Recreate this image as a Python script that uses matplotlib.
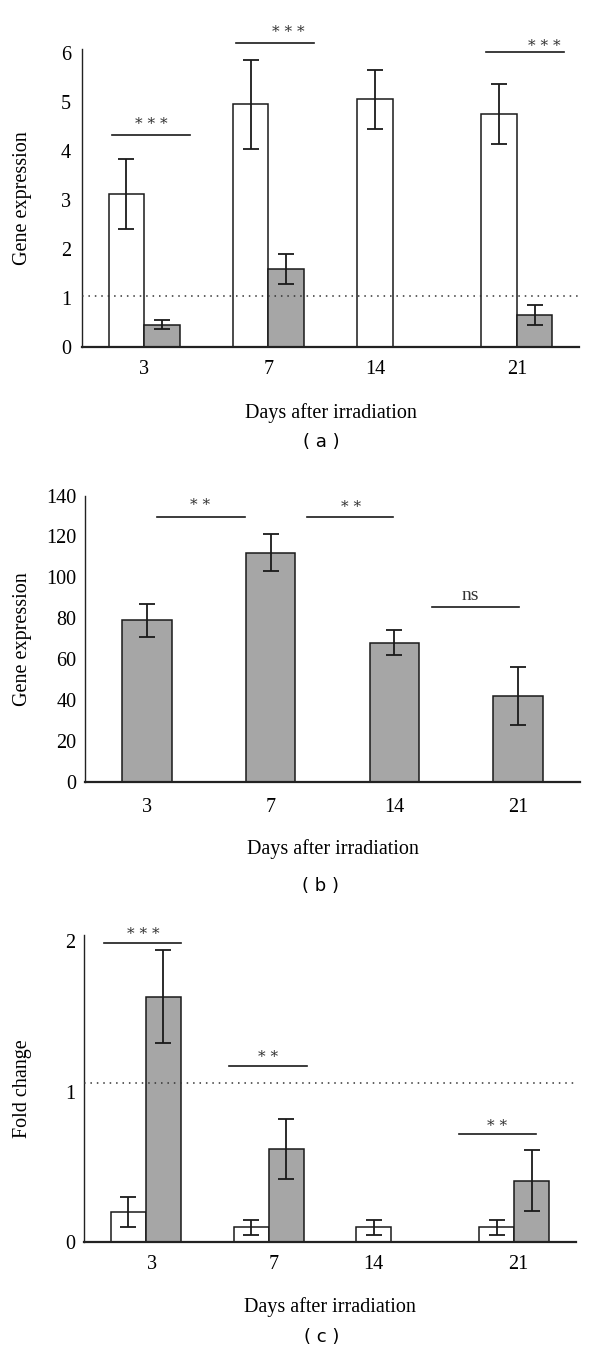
import numpy as np
import matplotlib
matplotlib.use("Agg")
import matplotlib.pyplot as plt

plt.rcParams['font.family'] = ['Liberation Serif', 'DejaVu Serif']

days = ["3", "7", "14", "21"]

# panel (a)
a_white = [3.12, 4.95, 5.05, 4.75]
a_white_err = [0.71, 0.91, 0.61, 0.61]
a_gray = [0.46, 1.59, np.nan, 0.65]
a_gray_err = [0.10, 0.30, np.nan, 0.20]

# panel (b)
b_gray = [79, 112, 68, 42]
b_gray_err = [8, 9, 6, 14]

# panel (c)
c_white = [0.20, 0.10, 0.10, 0.10]
c_white_err = [0.10, 0.05, 0.05, 0.05]
c_gray = [1.63, 0.62, np.nan, 0.41]
c_gray_err = [0.31, 0.20, np.nan, 0.20]

GRAY = '#a6a6a6'
EDGE = '#1a1a1a'

fig = plt.figure(figsize=(6.0, 13.61), dpi=100)


def style_axes(ax):
    for s in ['top', 'right']:
        ax.spines[s].set_visible(False)
    ax.spines['left'].set_linewidth(1.0)
    ax.spines['left'].set_color('#222222')
    ax.spines['bottom'].set_linewidth(1.6)
    ax.spines['bottom'].set_color('#222222')
    ax.tick_params(length=0, labelsize=14.5)


def bars(ax, x, vals, errs, color, w):
    ax.bar(x, vals, w, color=color, edgecolor=EDGE, linewidth=1.1, zorder=2)
    ax.errorbar(x, vals, yerr=errs, fmt='none', ecolor='#1a1a1a',
                elinewidth=1.3, capsize=5.5, capthick=1.3, zorder=3)


def sig(ax, x0, x1, y, label, tx, ty, size=11, family='DejaVu Serif'):
    ax.plot([x0, x1], [y, y], color='#1a1a1a', lw=1.2, clip_on=False)
    ax.text(tx, ty, label, ha='center', va='center', fontsize=size,
            color='#333333', family=family, clip_on=False)


x = np.arange(len(days))

# ---- (a)
ax = fig.add_axes([0.1367, 0.745, 0.8283, 0.219])
w = 0.285
white = np.array(a_white)
gray = np.array(a_gray)
bars(ax, x - w / 2, white, a_white_err, 'white', w)
m = ~np.isnan(gray)
bars(ax, (x + w / 2)[m], gray[m], np.array(a_gray_err)[m], GRAY, w)
ax.axhline(1.05, color='#333333', lw=1.1, ls=(0, (1, 3.2)), zorder=4)
ax.set_xlim(-0.5, 3.5)
ax.set_ylim(0, 6.08)
ax.set_yticks(range(0, 7))
ax.set_xticks([0, 1, 2 - w / 2, 3])
ax.set_xticklabels(days)
style_axes(ax)
ax.tick_params(axis='x', pad=9)
ax.tick_params(axis='y', pad=8)
ax.set_ylabel("Gene expression", fontsize=14.5)
ax.yaxis.set_label_coords(-0.101, 0.5)
ax.set_xlabel("Days after irradiation", fontsize=14.5)
ax.xaxis.set_label_coords(0.5, -0.189)
sig(ax, -0.26, 0.37, 4.32, "* * *", 0.06, 4.55)
sig(ax, 0.74, 1.37, 6.21, "* * *", 1.16, 6.42)
sig(ax, 2.75, 3.38, 6.01, "* * *", 3.22, 6.15)
fig.text(0.535, 1 - 441.7 / 1361, "( a )", ha='center', va='center',
         fontsize=13, family='DejaVu Sans')

# ---- (b)
ax = fig.add_axes([0.1417, 0.4256, 0.825, 0.2103])
wb = 0.4
ax.bar(x, b_gray, wb, color=GRAY, edgecolor=EDGE, linewidth=1.1, zorder=2)
ax.errorbar(x, b_gray, yerr=b_gray_err, fmt='none', ecolor='#1a1a1a',
            elinewidth=1.3, capsize=6, capthick=1.3, zorder=3)
ax.set_xlim(-0.5, 3.5)
ax.set_ylim(0, 140)
ax.set_yticks(range(0, 141, 20))
ax.set_xticks(x)
ax.set_xticklabels(days)
style_axes(ax)
ax.tick_params(axis='x', pad=12)
ax.tick_params(axis='y', pad=6)
ax.set_ylabel("Gene expression", fontsize=14.5)
ax.yaxis.set_label_coords(-0.108, 0.5)
ax.set_xlabel("Days after irradiation", fontsize=14.5)
ax.xaxis.set_label_coords(0.5, -0.201)
sig(ax, 0.08, 0.79, 129.4, "* *", 0.43, 135.5)
sig(ax, 1.29, 1.99, 129.4, "* *", 1.65, 134.5)
sig(ax, 2.30, 3.01, 85.3, "ns", 2.61, 91, size=14, family='Liberation Serif')
fig.text(0.535, 1 - 886 / 1361, "( b )", ha='center', va='center',
         fontsize=13, family='DejaVu Sans')

# ---- (c)
ax = fig.add_axes([0.1405, 0.0872, 0.8187, 0.2258])
white = np.array(c_white)
gray = np.array(c_gray)
bars(ax, x - w / 2, white, c_white_err, 'white', w)
m = ~np.isnan(gray)
bars(ax, (x + w / 2)[m], gray[m], np.array(c_gray_err)[m], GRAY, w)
ax.axhline(1.06, color='#333333', lw=1.1, ls=(0, (1, 3.2)), zorder=4)
ax.set_xlim(-0.5, 3.5)
ax.set_ylim(0, 2.04)
ax.set_yticks([0, 1, 2])
ax.set_xticks([0.05, 1.04, 2 - w / 2, 3.03])
ax.set_xticklabels(days)
style_axes(ax)
ax.tick_params(axis='x', pad=9)
ax.tick_params(axis='y', pad=6.5)
ax.set_ylabel("Fold change", fontsize=14.5)
ax.yaxis.set_label_coords(-0.107, 0.5)
ax.set_xlabel("Days after irradiation", fontsize=14.5)
ax.xaxis.set_label_coords(0.5, -0.177)
sig(ax, -0.34, 0.29, 1.99, "* * *", -0.02, 2.045)
sig(ax, 0.68, 1.31, 1.17, "* *", 1.0, 1.23)
sig(ax, 2.55, 3.18, 0.72, "* *", 2.86, 0.775)
fig.text(0.536, 1 - 1336.7 / 1361, "( c )", ha='center', va='center',
         fontsize=13, family='DejaVu Sans')

fig.savefig("out.png", dpi=100, facecolor='white')
